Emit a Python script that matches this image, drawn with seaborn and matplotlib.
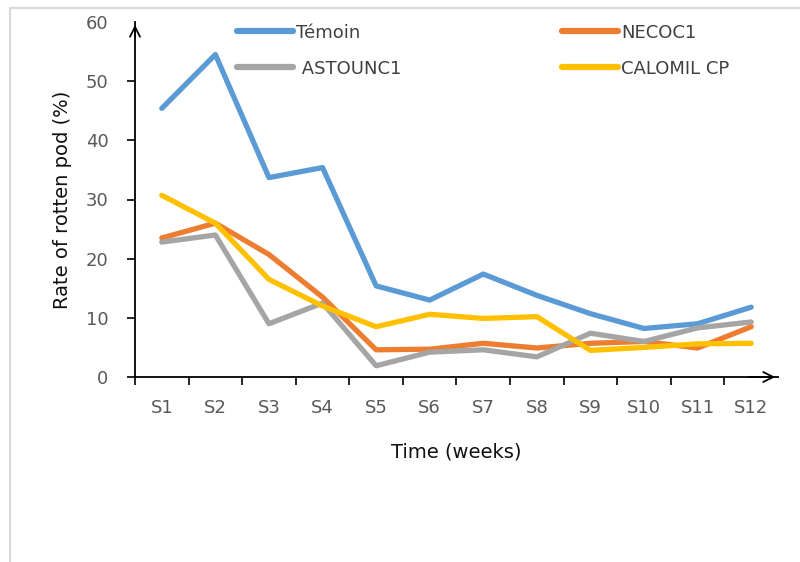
import pandas as pd
import numpy as np
import matplotlib
matplotlib.use('Agg')
import matplotlib.pyplot as plt
import seaborn as sns
from matplotlib.lines import Line2D

# data
weeks = ['S1', 'S2', 'S3', 'S4', 'S5', 'S6', 'S7', 'S8', 'S9', 'S10', 'S11', 'S12']
temoin = [45.4, 54.5, 33.7, 35.4, 15.4, 13.0, 17.4, 13.8, 10.7, 8.2, 9.0, 11.8]
necoc1 = [23.5, 26.0, 20.7, 13.5, 4.6, 4.7, 5.7, 4.9, 5.7, 6.0, 4.9, 8.5]
astounc1 = [22.8, 24.0, 9.0, 12.5, 1.9, 4.2, 4.6, 3.4, 7.4, 6.0, 8.3, 9.3]
calomil = [30.7, 26.0, 16.5, 12.0, 8.5, 10.6, 9.9, 10.2, 4.5, 5.0, 5.6, 5.7]

series_names = ['Témoin', 'NECOC1', 'ASTOUNC1', 'CALOMIL CP']
colors = ['#5B9BD5', '#ED7D31', '#A5A5A5', '#FFC000']

df = pd.DataFrame({'week': weeks, 'Témoin': temoin, 'NECOC1': necoc1,
                   'ASTOUNC1': astounc1, 'CALOMIL CP': calomil})
df['x'] = np.arange(len(weeks))
long_df = df.melt(id_vars=['week', 'x'], var_name='series', value_name='rate')

sns.set_style('white')
plt.rcParams['font.family'] = ['DejaVu Sans']

fig = plt.figure(figsize=(8, 5.62), dpi=100)
ax = fig.add_axes([135 / 800, 1 - 377 / 562, (778 - 135) / 800, (377 - 22) / 562])

sns.lineplot(data=long_df, x='x', y='rate', hue='series', hue_order=series_names,
             palette=colors, linewidth=3.8, ax=ax, legend=False)

ax.set_xlim(-0.5, 11.5)
ax.set_ylim(0, 60)

# spines
for s in ['top', 'right']:
    ax.spines[s].set_visible(False)
for s in ['left', 'bottom']:
    ax.spines[s].set_color('black')
    ax.spines[s].set_linewidth(1.3)

# arrow heads at ends of the axes
ax.annotate('', xy=(1.0, 0), xycoords='axes fraction', xytext=(0.95, 0),
            arrowprops=dict(arrowstyle='->', color='black', lw=1.3, mutation_scale=18))
ax.annotate('', xy=(0, 1.0), xycoords='axes fraction', xytext=(0, 0.95),
            arrowprops=dict(arrowstyle='->', color='black', lw=1.3, mutation_scale=18))

# y ticks
ax.set_yticks([0, 10, 20, 30, 40, 50, 60])
ax.tick_params(axis='y', which='major', direction='out', length=6, width=1.2,
               color='black', labelcolor='#595959', labelsize=13, pad=13, left=True)
ax.yaxis.get_major_ticks()[-1].tick1line.set_visible(False)

# x: labels at category centres, tick marks at category boundaries
ax.set_xticks(np.arange(len(weeks)))
ax.set_xticklabels(weeks)
ax.set_xticks(np.arange(-0.5, 11.0, 1.0), minor=True)
ax.tick_params(axis='x', which='major', length=0, labelcolor='#595959',
               labelsize=13, pad=16)
ax.tick_params(axis='x', which='minor', direction='out', length=6, width=1.2,
               color='black', bottom=True)

ax.set_xlabel('Time (weeks)', fontsize=14, color='#111111', labelpad=18)
ax.set_ylabel('Rate of rotten pod (%)', fontsize=14, color='#111111', labelpad=10)

# legend in two columns
handles = [Line2D([], [], color=colors[0], lw=4.5),
           Line2D([], [], color=colors[2], lw=4.5),
           Line2D([], [], color=colors[1], lw=4.5),
           Line2D([], [], color=colors[3], lw=4.5)]
labels = ['Témoin', ' ASTOUNC1', 'NECOC1', 'CALOMIL CP']
leg = ax.legend(handles, labels, ncol=2, loc='upper left',
                bbox_to_anchor=(0.148, 1.016), frameon=False,
                prop={'size': 13}, borderaxespad=0.0,
                handlelength=3.1, handletextpad=0.15, columnspacing=8.9,
                labelspacing=1.0)
for t in leg.get_texts():
    t.set_color('#404040')

# light frame around the chart (left and top only, as in the reference)
fig.add_artist(Line2D([9.5 / 800, 9.5 / 800], [0, 1 - 8 / 562],
                      transform=fig.transFigure, color='#d9d9d9', lw=1.5))
fig.add_artist(Line2D([9.5 / 800, 1], [1 - 8 / 562, 1 - 8 / 562],
                      transform=fig.transFigure, color='#d9d9d9', lw=1.5))

fig.savefig('out.png', dpi=100)
